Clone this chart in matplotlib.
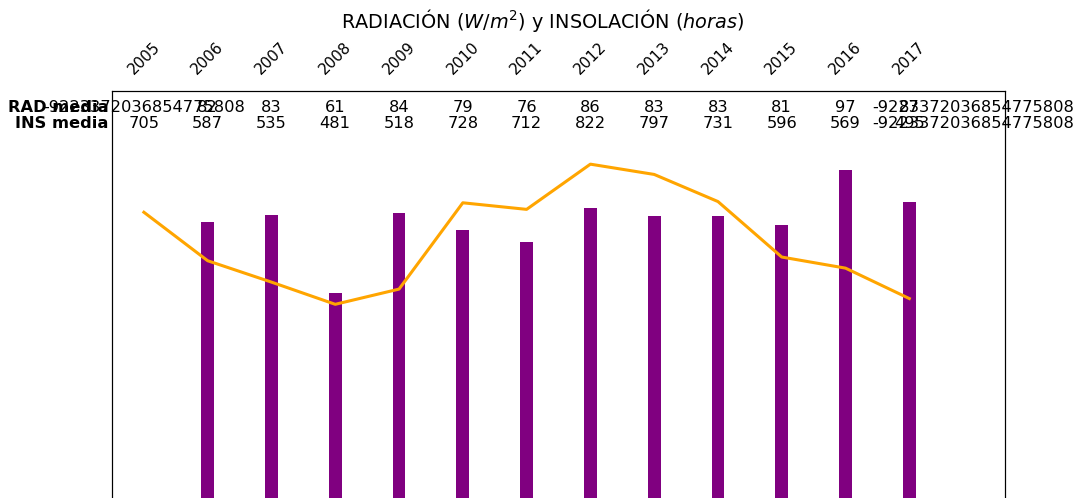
import numpy as np
import matplotlib.pyplot as plt
import matplotlib.transforms as mtransforms

years = ['2005', '2006', '2007', '2008', '2009', '2010', '2011',
         '2012', '2013', '2014', '2015', '2016', '2017', '']
# radiacion media (barras) y insolacion (linea); nan = sin datos
rad = [np.nan, 81.8, 83.8, 61.0, 84.4, 79.4, 75.9, 85.8, 83.5, 83.5, 80.9, 97.0, 87.6, np.nan]
ins = [705, 587, 535, 481, 518, 728, 712, 822, 797, 731, 596, 569, 495, np.nan]
rad_txt = ['-9223372036854775808', '82', '83', '61', '84', '79', '76', '86',
           '83', '83', '81', '97', '87', '-9223372036854775808']
ins_txt = ['705', '587', '535', '481', '518', '728', '712', '822',
           '797', '731', '596', '569', '495', '-9223372036854775808']

fig = plt.figure(figsize=(10.83, 4.98), dpi=100)
W, H = 1083, 498
ax = fig.add_axes([112 / W, (H - 502) / H, 893 / W, 411 / H])
x = np.arange(len(years))

ax.bar(x, rad, width=0.2, color='purple')
ax.set_ylim(0, 120)
ax.set_xlim(-0.5, 13.5)
ax.set_yticks([])
ax.xaxis.tick_top()
ax.set_xticks(x[:13])
ax.set_xticklabels(years[:13], rotation=45, fontsize=11)
ax.tick_params(axis='x', length=0, pad=10)

ax2 = ax.twinx()
ax2.plot(x, ins, color='orange', linewidth=2.2)
ax2.set_ylim(0, 1000)
ax2.set_yticks([])

fs = 11.7
trans = mtransforms.blended_transform_factory(ax.transData, ax.transAxes)
for i in range(len(years)):
    ax.text(x[i], 0.961, rad_txt[i], transform=trans, ha='center', va='center', fontsize=fs)
    ax.text(x[i], 0.922, ins_txt[i], transform=trans, ha='center', va='center', fontsize=fs)
ax.text(-0.56, 0.961, 'RAD media', transform=trans, ha='right', va='center',
        fontsize=fs, fontweight='bold')
ax.text(-0.56, 0.922, 'INS media', transform=trans, ha='right', va='center',
        fontsize=fs, fontweight='bold')

fig.text(543 / W, 1 - 21 / H, r'RADIACIÓN ($W/m^2$) y INSOLACIÓN ($horas$)',
         ha='center', va='center', fontsize=13.9)

fig.savefig('out.png', dpi=100)
